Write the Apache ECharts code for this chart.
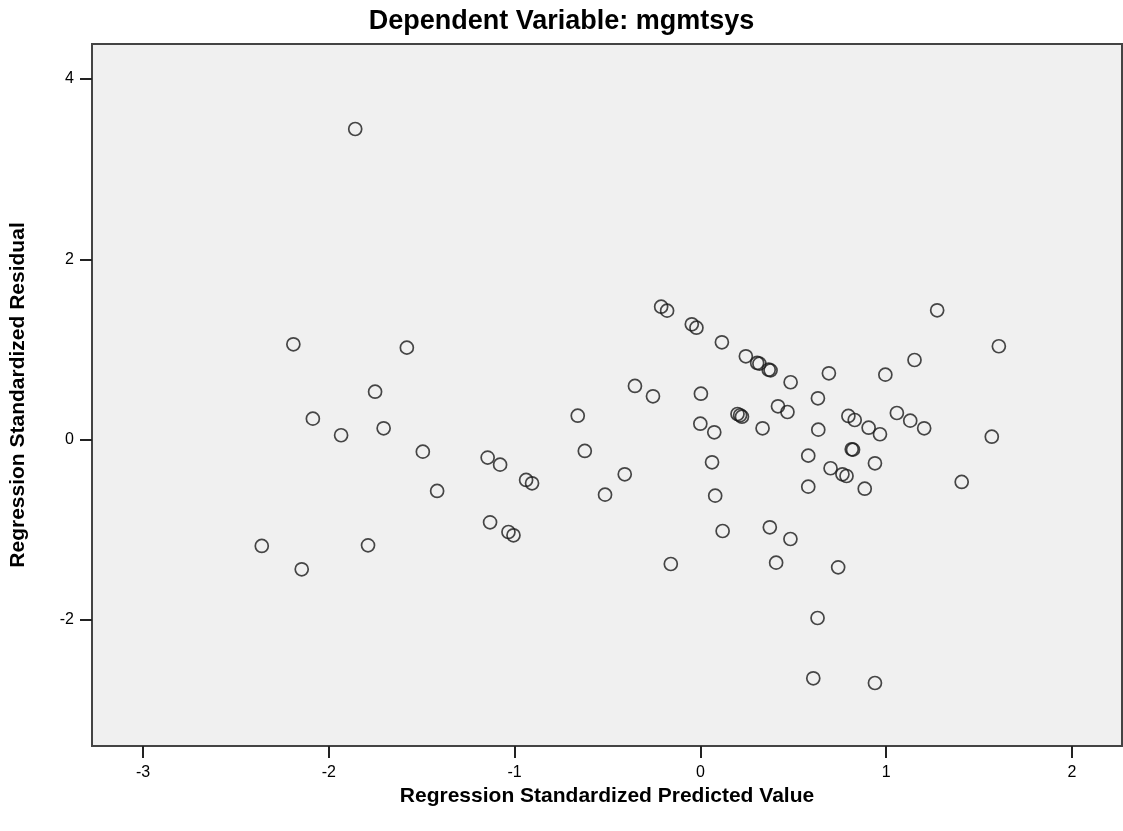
<!DOCTYPE html>
<html>
<head>
<meta charset="utf-8">
<script src="https://cdn.jsdelivr.net/npm/echarts@6/dist/echarts.min.js"></script>
<style>
  html, body { margin: 0; padding: 0; background: #fff; }
  #chart { width: 1123px; height: 831px; }
</style>
</head>
<body>
<div id="chart"></div>
<script>
// standardized predicted values (x) and standardized residuals (y)
var predicted = [
  -1.858, -2.191, -1.580, -1.751, -2.086, -1.934, -1.705, -1.494, -1.145, -1.078,
  -1.417, -1.132, -2.361, -1.789, -2.146, -0.938, -0.906, -1.033, -1.006, -0.660,
  -0.622, -0.407, -0.513, -0.352, -0.255, -0.211, -0.179, -0.046, -0.021, -0.159,
  0.003, 0.000, 0.075, 0.063, 0.080, 0.120, 0.116, 0.245, 0.306, 0.318,
  0.368, 0.378, 0.200, 0.214, 0.224, 0.335, 0.418, 0.469, 0.486, 0.374,
  0.485, 0.408, 0.581, 0.581, 0.633, 0.635, 0.692, 0.701, 0.765, 0.787,
  0.742, 0.631, 0.608, 0.815, 0.822, 0.797, 0.831, 0.885, 0.940, 0.906,
  0.967, 0.940, 0.996, 1.058, 1.130, 1.205, 1.153, 1.275, 1.607, 1.569,
  1.407
];
var residual = [
  3.445, 1.057, 1.020, 0.531, 0.232, 0.048, 0.125, -0.134, -0.200, -0.278,
  -0.570, -0.918, -1.180, -1.173, -1.439, -0.448, -0.485, -1.025, -1.062, 0.265,
  -0.126, -0.385, -0.611, 0.595, 0.480, 1.474, 1.430, 1.279, 1.241, -1.380,
  0.509, 0.176, 0.081, -0.252, -0.622, -1.014, 1.079, 0.924, 0.850, 0.842,
  0.775, 0.768, 0.284, 0.270, 0.254, 0.125, 0.369, 0.306, 0.636, -0.973,
  -1.103, -1.365, -0.178, -0.522, 0.458, 0.110, 0.735, -0.318, -0.385, -0.404,
  -1.417, -1.979, -2.648, -0.108, -0.112, 0.262, 0.217, -0.545, -0.263, 0.132,
  0.059, -2.700, 0.720, 0.295, 0.210, 0.125, 0.883, 1.434, 1.035, 0.032,
  -0.470
];
var xTicks = [-3, -2, -1, 0, 1, 2];
var yTicks = [-2, 0, 2, 4];

var points = [];
for (var i = 0; i < predicted.length; i++) {
  points.push([predicted[i], residual[i]]);
}

var chart = echarts.init(document.getElementById('chart'));
chart.setOption({
  backgroundColor: '#ffffff',
  animation: false,
  textStyle: { fontFamily: 'Liberation Sans, Arial, sans-serif' },
  title: {
    text: 'Dependent Variable: mgmtsys',
    left: 'center',
    top: 3,
    textStyle: { fontSize: 27, fontWeight: 'bold', color: '#000' }
  },
  grid: {
    left: 88,
    right: 1,
    top: 44,
    bottom: 85,
    show: true,
    backgroundColor: '#f0f0f0',
    borderColor: '#444',
    borderWidth: 2
  },
  xAxis: {
    type: 'value',
    min: -3.275,
    max: 2.27,
    name: 'Regression Standardized Predicted Value',
    nameLocation: 'middle',
    nameGap: 34,
    nameTextStyle: { fontSize: 21, fontWeight: 'bold', color: '#000' },
    axisLine: { show: true, onZero: false, lineStyle: { color: '#444', width: 2 } },
    axisTick: { show: true, length: 12, lineStyle: { color: '#222', width: 2 }, customValues: xTicks },
    axisLabel: { fontSize: 16, color: '#000', margin: 19, customValues: xTicks },
    splitLine: { show: false }
  },
  yAxis: {
    type: 'value',
    min: -3.399,
    max: 4.388,
    name: 'Regression Standardized Residual',
    nameLocation: 'middle',
    nameGap: 63,
    nameTextStyle: { fontSize: 21, fontWeight: 'bold', color: '#000' },
    axisLine: { show: true, onZero: false, lineStyle: { color: '#444', width: 2 } },
    axisTick: { show: true, length: 12, lineStyle: { color: '#222', width: 2 }, customValues: yTicks },
    axisLabel: { fontSize: 16, color: '#000', margin: 18, customValues: yTicks },
    splitLine: { show: false }
  },
  series: [{
    type: 'scatter',
    data: points,
    symbol: 'circle',
    symbolSize: 13,
    itemStyle: {
      color: 'rgba(0,0,0,0)',
      borderColor: '#1a1a1a',
      borderWidth: 1.7
    }
  }]
});
</script>
</body>
</html>
